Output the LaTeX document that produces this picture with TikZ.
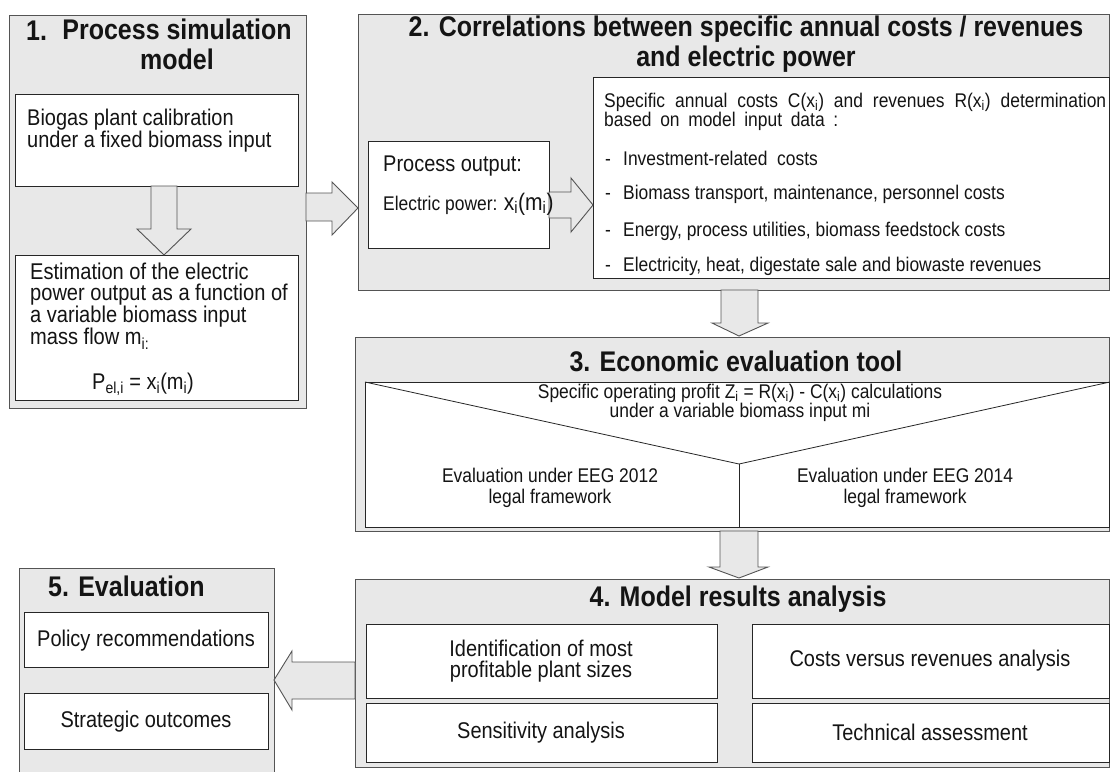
\documentclass[tikz,border=0pt]{standalone}
\usepackage{fontspec}
\setmainfont{Liberation Sans}[FakeStretch=0.88]
\usetikzlibrary{calc}
\newcommand\sbs[1]{\textsubscript{#1}}
\newcommand\fs[2]{\fontsize{#1}{#2}\selectfont}
\newcommand\itemdash{\makebox[18pt][l]{-}}
\definecolor{panelfill}{gray}{0.91}
\definecolor{panelline}{gray}{0.33}
\definecolor{inkcol}{gray}{0.08}
\begin{document}
\begin{tikzpicture}[x=1pt,y=-1pt,
  sz/.style 2 args={minimum width=#1pt, minimum height=#2pt},
  panel/.style={draw=panelline, fill=panelfill, line width=1.1pt, inner sep=0pt, anchor=north west},
  card/.style={draw=black!85, fill=white, line width=0.9pt, inner sep=0pt, anchor=north west},
  blockarrow/.style={draw=panelline, fill=panelfill, line width=0.9pt, line join=miter},
  title/.style={font=\bfseries\fs{28.4}{30}, text=inkcol, inner sep=0pt},
  body/.style={font=\fs{22.7}{22.7}, text=inkcol, inner sep=0pt},
  smalltext/.style={font=\fs{19.8}{19}, text=inkcol, inner sep=0pt},
]
\useasboundingbox (0,0) rectangle (1110,771);
\clip (0,0) rectangle (1110,771);

% grey stage panels
\node[panel, sz={297}{393}] (p1) at (9,15) {};
\node[panel, sz={751}{276}] (p2) at (358,14) {};
\node[panel, sz={754}{194}] (p3) at (355,337) {};
\node[panel, sz={754}{188}] (p4) at (355,579) {};
\node[panel, sz={255}{220}] (p5) at (19,568) {};

% white content boxes
\node[card, sz={283}{92}]  (c1a) at (15,94) {};
\node[card, sz={283}{145}] (c1b) at (15,255) {};
\node[card, sz={181}{107}] (c2a) at (368,141) {};
\node[card, sz={516}{201}] (c2b) at (593,77) {};
\node[card, sz={744}{145}] (c3)  at (365,382) {};
\node[card, sz={351}{74}]  (c4a) at (366,624) {};
\node[card, sz={357}{74}]  (c4b) at (752,624) {};
\node[card, sz={351}{59}]  (c4c) at (366,703) {};
\node[card, sz={357}{59}]  (c4d) at (752,703) {};
\node[card, sz={244}{55}]  (c5a) at (24,612) {};
\node[card, sz={244}{56}]  (c5b) at (24,693) {};

% funnel lines inside the evaluation tool
\coordinate (vtip) at (739,464);
\draw[black!85, line width=0.8pt] (c3.north west) -- (vtip) -- (c3.north east);
\draw[black!85, line width=0.8pt] (vtip) -- (vtip |- c3.south);

% block arrows
\filldraw[blockarrow] (151,186) -- (177,186) -- (177,229) -- (191,229) -- (164,255) -- (137,229) -- (151,229) -- cycle;
\filldraw[blockarrow] (306,193) -- (332,193) -- (332,182) -- (358,208) -- (332,235) -- (332,221) -- (306,221) -- cycle;
\filldraw[blockarrow] (549,192) -- (571,192) -- (571,178) -- (593,205) -- (571,232) -- (571,218) -- (549,218) -- cycle;
\filldraw[blockarrow] (721,290) -- (758,290) -- (758,323) -- (768,323) -- (739,336) -- (712,323) -- (721,323) -- cycle;
\filldraw[blockarrow] (720,531) -- (758,531) -- (758,567) -- (768,567) -- (739,578) -- (709,567) -- (720,567) -- cycle;
\filldraw[blockarrow] (355,662) -- (292,662) -- (292,651) -- (274,680) -- (292,710) -- (292,699) -- (355,699) -- cycle;

% 1. process simulation model
\node[title, anchor=west] (t1n) at (26,31) {1.};
\node[title, align=center] (t1) at (177,44) {Process simulation\\model};
\node[body, anchor=west, align=left, font=\fs{22.7}{19.5}] (b1a) at (27,131) {Biogas plant calibration\\under a fixed biomass input};
\node[body, anchor=west, align=left, font=\fs{22.8}{21.2}] (b1b) at (30,306) {Estimation of the electric\\power output as a function of\\a variable biomass input\\mass flow m\sbs{i:}};
\node[body] (b1c) at (143,384) {P\sbs{el,i} = x\sbs{i}(m\sbs{i})};

% 2. correlations
\node[title, align=center] (t2) at (746,44) {2. Correlations between specific annual costs / revenues\\and electric power};
\node[body, anchor=west] (b2a) at (383,166) {Process output:};
\node[smalltext, anchor=west] (b2b) at (383,204) {Electric power: {\fs{23.9}{23.9}x\sbs{i}(m\sbs{i})}};
\node[smalltext, anchor=west, align=left, font=\fs{19.8}{18}] (b2c) at (604,112) {\makebox[502pt][s]{Specific annual costs C(x\sbs{i}) and revenues R(x\sbs{i}) determination}\\\makebox[234pt][s]{based on model input data :}};
\node[smalltext, anchor=west] (i1) at (605,158) {\itemdash Investment-related\ \ costs};
\node[smalltext, anchor=west] (i2) at (605,194) {\itemdash Biomass transport, maintenance, personnel costs};
\node[smalltext, anchor=west] (i3) at (605,231) {\itemdash Energy, process utilities, biomass feedstock costs};
\node[smalltext, anchor=west] (i4) at (605,266) {\itemdash Electricity, heat, digestate sale and biowaste revenues};

% 3. economic evaluation tool
\node[title] (t3) at (736,361) {3. Economic evaluation tool};
\node[smalltext, align=center, font=\fs{19.8}{19.5}] (b3a) at (740,403) {Specific operating profit Z\sbs{i} = R(x\sbs{i}) - C(x\sbs{i}) calculations\\under a variable biomass input mi};
\node[smalltext, align=center, font=\fs{19.8}{21}] (b3b) at (550,488) {Evaluation under EEG 2012\\legal framework};
\node[smalltext, align=center, font=\fs{19.8}{21}] (b3c) at (905,488) {Evaluation under EEG 2014\\legal framework};

% 4. model results analysis
\node[title] (t4) at (738,599) {4. Model results analysis};
\node[body, align=center, font=\fs{22.7}{20.5}] (b4a) at (541,661) {Identification of most\\profitable plant sizes};
\node[body] (b4b) at (930,661) {Costs versus revenues analysis};
\node[body] (b4c) at (541,733) {Sensitivity analysis};
\node[body] (b4d) at (930,732) {Technical assessment};

% 5. evaluation
\node[title, anchor=west] (t5) at (48,586) {5. Evaluation};
\node[body] (b5a) at (146,641) {Policy recommendations};
\node[body] (b5b) at (146,722) {Strategic outcomes};
\end{tikzpicture}
\end{document}
